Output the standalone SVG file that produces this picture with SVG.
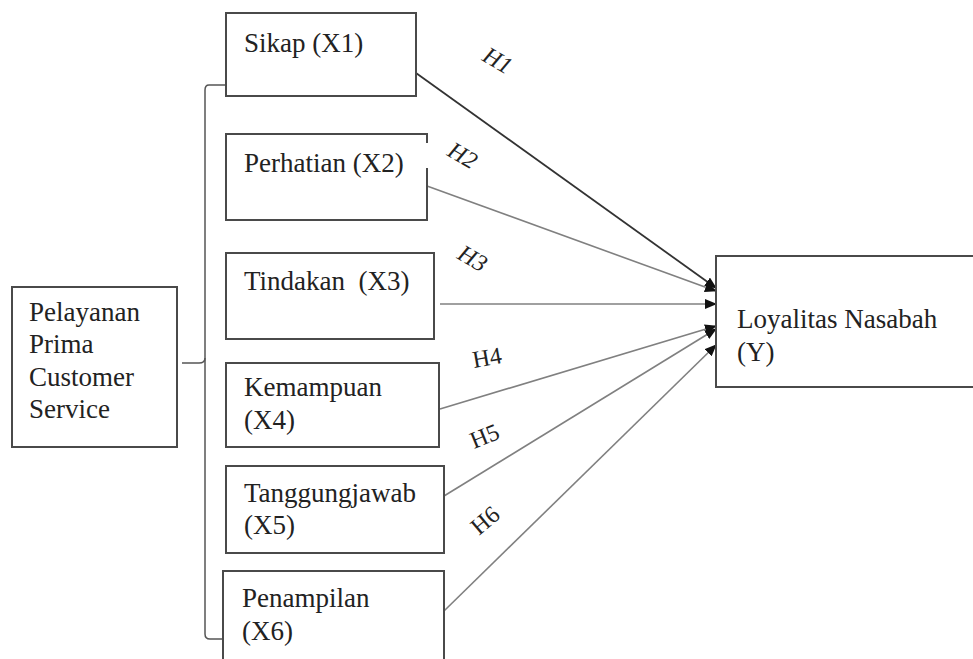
<svg xmlns="http://www.w3.org/2000/svg" width="973" height="659" viewBox="0 0 973 659">
<style>
.box{fill:#fff;stroke:#4a4a4a;stroke-width:2}
.t{font-size:27px;fill:#222}
.h{font-size:24px;fill:#222}
.ln{stroke:#808080;stroke-width:1.6;fill:none}
.br{stroke:#555;stroke-width:1.5;fill:none}
</style>
<defs>
<marker id="ah" markerWidth="12" markerHeight="10" refX="11" refY="5" orient="auto" markerUnits="userSpaceOnUse">
<path d="M0,0 L12,5 L0,10 Z" fill="#111"/>
</marker>
</defs>
<rect width="973" height="659" fill="#fff"/>
<g id="connectors" font-family="Liberation Serif, DejaVu Serif, serif">
<path class="br" d="M226,85 L209,85 Q205,85 205,90 L205,634 Q205,639 210,639 L223,639"/>
<path class="br" d="M182,363 L199,363 Q205,363 205,358"/>
<line x1="416" y1="73" x2="716" y2="288" stroke="#333" stroke-width="1.8" marker-end="url(#ah)"/>
<line class="ln" x1="427" y1="186" x2="716" y2="291" marker-end="url(#ah)"/>
<line class="ln" x1="440" y1="304" x2="716" y2="304" marker-end="url(#ah)"/>
<line class="ln" x1="440" y1="409" x2="716" y2="326" marker-end="url(#ah)"/>
<line class="ln" x1="444" y1="496" x2="716" y2="329" marker-end="url(#ah)"/>
<line class="ln" x1="444" y1="611" x2="716" y2="345" marker-end="url(#ah)"/>
<text class="h" font-style="italic" transform="translate(481,60) rotate(30)">H1</text>
<text class="h" font-style="italic" transform="translate(446,155) rotate(30)">H2</text>
<text class="h" font-style="italic" transform="translate(456,258) rotate(30)">H3</text>
<text class="h" transform="translate(474,368) rotate(-10)">H4</text>
<text class="h" transform="translate(474,449) rotate(-22)">H5</text>
<text class="h" transform="translate(479,536) rotate(-40)">H6</text>
</g>
<g font-family="Liberation Serif, DejaVu Serif, serif">
<g id="x1"><rect class="box" x="226" y="13" width="190" height="83"/><text class="t" x="244" y="52">Sikap (X1)</text></g>
<g id="x2"><rect class="box" x="226" y="134" width="201" height="86"/><line x1="427" y1="143" x2="427" y2="168" stroke="#fff" stroke-width="4"/><text class="t" x="244" y="172">Perhatian (X2)</text></g>
<g id="x3"><rect class="box" x="226" y="253" width="208" height="86"/><text class="t" x="244" y="290" xml:space="preserve">Tindakan  (X3)</text></g>
<g id="x4"><rect class="box" x="226" y="363" width="213" height="84"/><text class="t" x="244" y="396">Kemampuan</text><text class="t" x="244" y="429">(X4)</text></g>
<g id="x5"><rect class="box" x="226" y="466" width="218" height="87"/><text class="t" x="244" y="502">Tanggungjawab</text><text class="t" x="244" y="534">(X5)</text></g>
<g id="x6"><rect class="box" x="223" y="571" width="221" height="95"/><text class="t" x="242" y="607">Penampilan</text><text class="t" x="242" y="640">(X6)</text></g>
<g id="pelayanan"><rect class="box" x="12" y="287" width="165" height="160"/><text class="t" x="29" y="321">Pelayanan</text><text class="t" x="29" y="353">Prima</text><text class="t" x="29" y="386">Customer</text><text class="t" x="29" y="418">Service</text></g>
<g id="y"><rect class="box" x="716" y="256" width="270" height="131"/><text class="t" x="737" y="328">Loyalitas Nasabah</text><text class="t" x="737" y="361">(Y)</text></g>
</g>
</svg>
